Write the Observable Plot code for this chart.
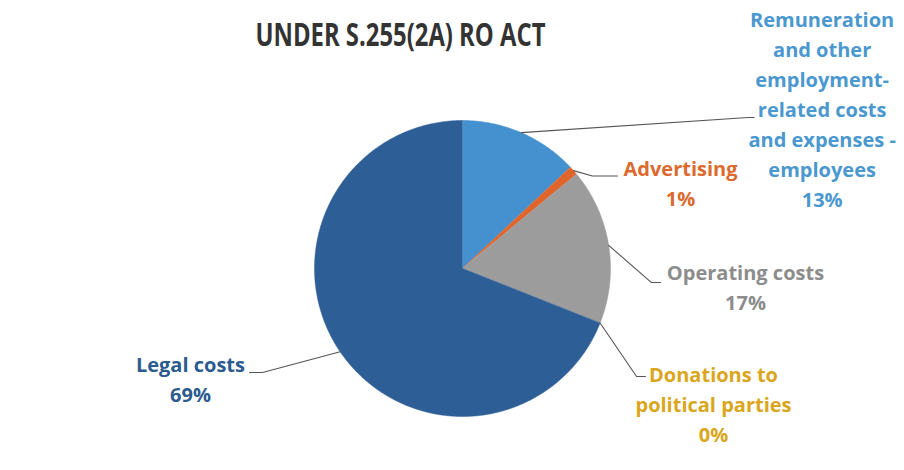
<!DOCTYPE html>
<html><head><meta charset="utf-8">
<script src="https://cdn.jsdelivr.net/npm/d3@7"></script>
<script src="https://cdn.jsdelivr.net/npm/@observablehq/plot@0.6"></script>
<style>body{margin:0;background:#fff}#chart svg{display:block}</style>
</head><body><div id="chart"></div>
<script>
// ---- data ----
const title = "UNDER S.255(2A) RO ACT";
const categories = [
  "Remuneration and other employment-related costs and expenses - employees",
  "Advertising",
  "Operating costs",
  "Donations to political parties",
  "Legal costs"
];
const values = [13, 1, 17, 0, 69];
const wrappedNames = [
  "Remuneration\nand other\nemployment-\nrelated costs\nand expenses -\nemployees",
  "Advertising",
  "Operating costs",
  "Donations to\npolitical parties",
  "Legal costs"
];
const sliceColors = ["#4590cf", "#e0652a", "#9c9c9c", "#e6b31e", "#2e5e96"];
const labelColors = ["#4a98cf", "#dc6a2e", "#8c8c8c", "#d9a61c", "#2c5b8e"];

// ---- layout (unit-circle coordinates, radius = 1) ----
const labelPos = [[2.43, 1.09], [1.473, 0.59], [1.912, -0.115], [1.696, -0.905], [-1.838, -0.735]];
const leaderElbow = [[1.93, 1.02], [0.878, 0.625], [1.277, -0.095], [1.176, -0.730], [-1.351, -0.703]];
const leaderEnd = [[1.97, 1.02], [1.047, 0.625], [1.338, -0.095], [1.236, -0.730], [-1.439, -0.703]];
const titlePos = [-0.419, 1.574];

const cx = 462, cy = 268, r = 148;

const arcs = d3.pie().sort(null).value(d => d)(values);
const slicePts = [];
arcs.forEach((a, i) => {
  if (a.endAngle - a.startAngle <= 0) return;
  slicePts.push({cat: categories[i], x: 0, y: 0});
  const n = Math.max(2, Math.ceil((a.endAngle - a.startAngle) / 0.01));
  for (let k = 0; k <= n; k++) {
    const t = a.startAngle + (a.endAngle - a.startAngle) * k / n;
    slicePts.push({cat: categories[i], x: Math.sin(t), y: Math.cos(t)});
  }
});

const leaderPts = [];
arcs.forEach((a, i) => {
  const m = i === 3 ? a.startAngle : (a.startAngle + a.endAngle) / 2;
  leaderPts.push({cat: categories[i], x: Math.sin(m), y: Math.cos(m)});
  leaderPts.push({cat: categories[i], x: leaderElbow[i][0], y: leaderElbow[i][1]});
  leaderPts.push({cat: categories[i], x: leaderEnd[i][0], y: leaderEnd[i][1]});
});

const labels = categories.map((c, i) => ({
  cat: c, x: labelPos[i][0], y: labelPos[i][1],
  text: wrappedNames[i] + "\n" + values[i] + "%", color: labelColors[i]
}));

const chart = Plot.plot({
  width: 904, height: 470, margin: 0,
  style: {fontFamily: "'Open Sans', sans-serif", background: "#fff"},
  x: {domain: [-1, 1], range: [cx - r, cx + r], axis: null},
  y: {domain: [-1, 1], range: [cy + r, cy - r], axis: null},
  color: {domain: categories, range: sliceColors},
  marks: [
    Plot.line(slicePts, {x: "x", y: "y", z: "cat", fill: "cat", stroke: "cat", strokeWidth: 0.5, curve: "linear"}),
    Plot.line(leaderPts, {x: "x", y: "y", z: "cat", stroke: "#555", strokeWidth: 1.1}),
    ...labels.map(d => Plot.text([d], {x: "x", y: "y", text: "text", fill: d.color, fontSize: 20, fontWeight: "bold", lineHeight: 1.5, textAnchor: "middle"})),
    Plot.text([title], {x: () => titlePos[0], y: () => titlePos[1], text: d => d, fontSize: 33, fontWeight: "bold", fill: "#333"})
  ]
});
// condense the title like the original's narrow typeface
chart.querySelectorAll("text").forEach(t => {
  if (t.textContent === title) { t.setAttribute("textLength", 290); t.setAttribute("lengthAdjust", "spacingAndGlyphs"); }
});
document.getElementById("chart").append(chart);
</script>
</body></html>
